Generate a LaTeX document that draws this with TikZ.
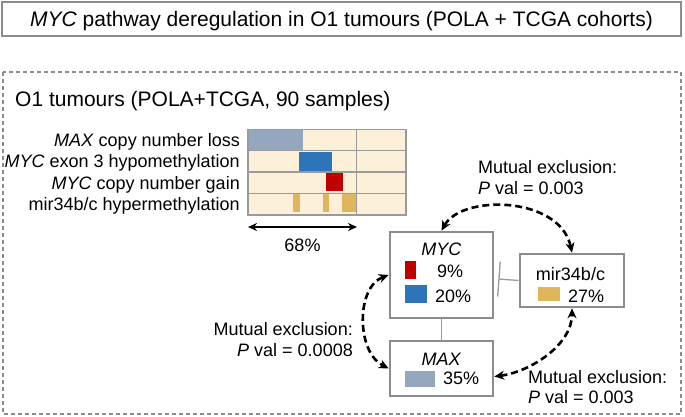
\documentclass[tikz,border=0pt]{standalone}
\usepackage{fontspec}
\setmainfont{Liberation Sans}
\usetikzlibrary{arrows.meta}
\definecolor{boxgray}{HTML}{8C8C8C}
\definecolor{cream}{HTML}{FDF0D9}
\definecolor{maxc}{HTML}{95A6BF}
\definecolor{mycb}{HTML}{2E74B8}
\definecolor{mycr}{HTML}{C00000}
\definecolor{mirc}{HTML}{E0B65C}
\definecolor{gridc}{HTML}{9A9A9A}
\begin{document}
\begin{tikzpicture}[x=1pt,y=-1pt,
  big/.style={font=\fontsize{21}{25}\selectfont, inner sep=0pt, text height=15pt, text depth=0pt},
  txt/.style={font=\fontsize{18}{21}\selectfont, inner sep=0pt, text height=13pt, text depth=0pt},
  genebox/.style={draw=boxgray, line width=2.6pt, inner sep=0pt},
  link/.style={draw=gridc, line width=1.3pt},
  mx/.style={line width=2.6pt, dash pattern=on 7pt off 4pt,
    {Stealth[length=10pt,width=9pt]}-{Stealth[length=10pt,width=9pt]}}
]
\useasboundingbox (0,0) rectangle (685,417);

% title
\node[big, draw=boxgray, line width=1.3pt, minimum width=679pt, minimum height=34pt] (title) at (341.5,19) {\textit{MYC} pathway deregulation in O1 tumours (POLA + TCGA cohorts)};

% dashed frame
\draw[boxgray, line width=1.2pt, dash pattern=on 4pt off 3pt] (3,72) rectangle (681,414);
\node[big, anchor=west] (sub) at (15,99) {O1 tumours (POLA+TCGA, 90 samples)};

% oncoprint grid
\fill[cream] (248,129.3) rectangle (406,215);
\fill[maxc] (248,129.3) rectangle (302.7,150.7);
\fill[mycb] (299,151.7) rectangle (331.7,171.7);
\fill[mycr] (326,172.3) rectangle (343.3,191);
\fill[mirc] (293.3,194) rectangle (300,212.3);
\fill[mirc] (323.3,194) rectangle (329,212.3);
\fill[mirc] (341.7,194) rectangle (356.7,212.3);
\draw[gridc, line width=1.5pt] (248,129.3) rectangle (406,215);
\draw[gridc, line width=1.5pt] (248,150.7) -- (406,150.7) (248,172) -- (406,172) (248,193.3) -- (406,193.3) (356.7,129.3) -- (356.7,215);

\node[txt, anchor=east] (r1) at (240,139.8) {\textit{MAX} copy number loss};
\node[txt, anchor=east] (r2) at (240,161.2) {\textit{MYC} exon 3 hypomethylation};
\node[txt, anchor=east] (r3) at (240,182.5) {\textit{MYC} copy number gain};
\node[txt, anchor=east] (r4) at (240,203.8) {mir34b/c hypermethylation};

\coordinate (a1) at (248,227);
\coordinate (a2) at (357,227);
\draw[line width=1.6pt, {Stealth[length=9pt,width=8pt]}-{Stealth[length=9pt,width=8pt]}] (a1) -- (a2);
\node[txt] (pct) at (302.5,245) {68\%};

% gene boxes
\node[genebox, minimum width=103pt, minimum height=86pt] (myc) at (441.5,275) {};
\node[genebox, minimum width=104pt, minimum height=53pt] (mir) at (572,280.5) {};
\node[genebox, minimum width=103pt, minimum height=55pt] (max) at (441.5,368.5) {};

\node[txt] (myct) at (441.5,249) {\textit{MYC}};
\fill[mycr] (405,261) rectangle (416,279);
\node[txt, anchor=west] (p9) at (437,271) {9\%};
\fill[mycb] (405,285) rectangle (426.7,303);
\node[txt, anchor=west] (p20) at (435,296) {20\%};

\node[txt] (mirt) at (570.5,274) {mir34b/c};
\fill[mirc] (537.7,286.7) rectangle (560,301);
\node[txt, anchor=west] (p27) at (568,296) {27\%};

\node[txt] (maxt) at (441.5,359) {\textit{MAX}};
\fill[maxc] (405,370.7) rectangle (435,386.7);
\node[txt, anchor=west] (p35) at (443,377.5) {35\%};

% interactions
\draw[link] (myc.south) -- (max.north);
\coordinate (inh) at (498.3,279);
\draw[link, -{Bar[width=35pt,line width=1.3pt]}] (mir.west) -- (inh);

\draw[mx] (myc.north) .. controls (462,194) and (560,196) .. (mir.north);
\draw[mx] (myc.west) .. controls (356,287) and (356,352) .. (max.west);
\draw[mx] ([yshift=-8pt]max.east) .. controls (530,372) and (572,345) .. (mir.south);

% labels
\node[txt, anchor=west] (l1a) at (478,166.7) {Mutual exclusion:};
\node[txt, anchor=west] (l1b) at (478,188.3) {\textit{P} val = 0.003};
\node[txt, anchor=east] (l2a) at (353,329) {Mutual exclusion:};
\node[txt, anchor=east] (l2b) at (353,350) {\textit{P} val = 0.0008};
\node[txt, anchor=west] (l3a) at (528,376.7) {Mutual exclusion:};
\node[txt, anchor=west] (l3b) at (528,396.7) {\textit{P} val = 0.003};
\end{tikzpicture}
\end{document}
